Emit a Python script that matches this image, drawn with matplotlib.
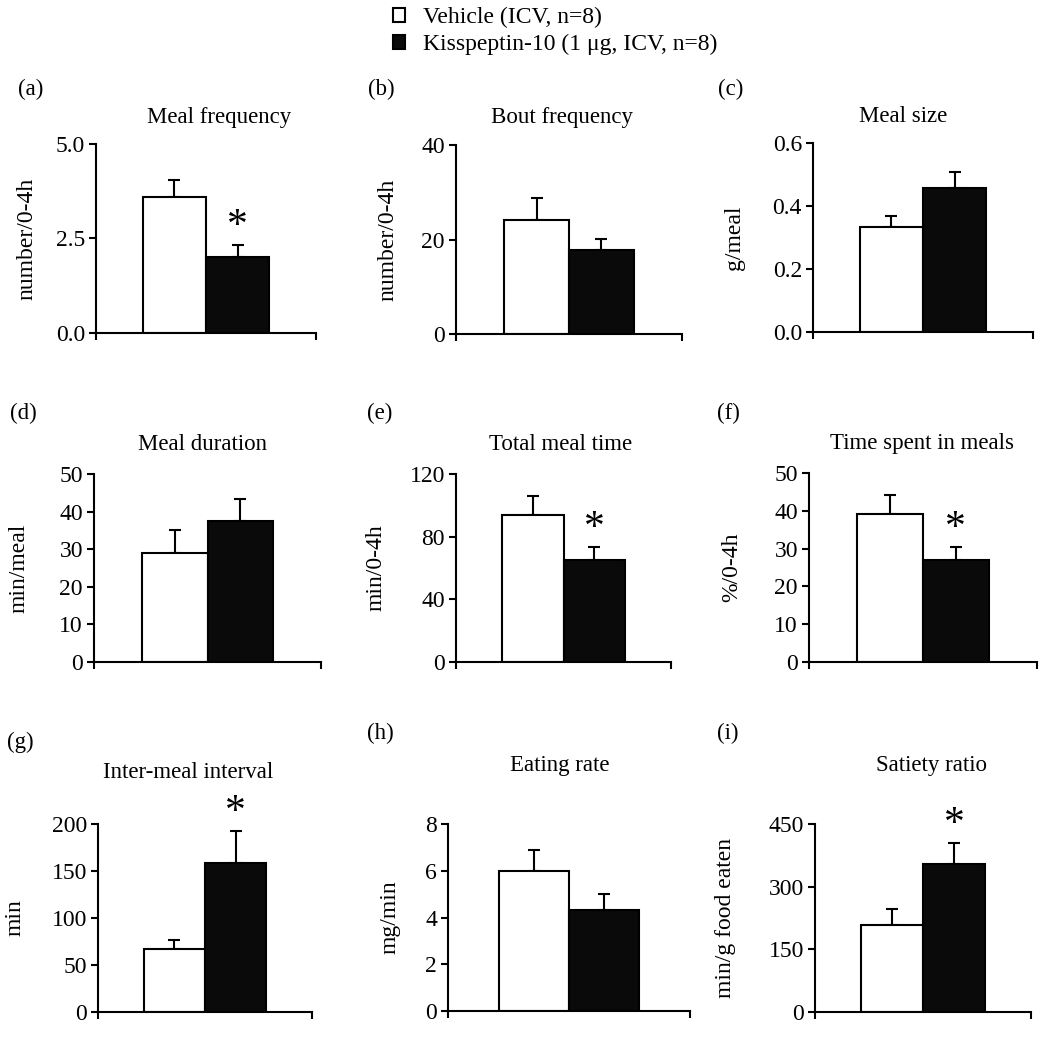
import matplotlib
matplotlib.use("Agg")
import matplotlib.pyplot as plt
from matplotlib.patches import Patch

plt.rcParams['font.family'] = ['Liberation Serif', 'DejaVu Serif']

# ---------------- data ----------------
groups = ["Vehicle (ICV, n=8)", "Kisspeptin-10 (1 \u03bcg, ICV, n=8)"]
panel_letters = ["(a)", "(b)", "(c)", "(d)", "(e)", "(f)", "(g)", "(h)", "(i)"]
titles = ["Meal frequency", "Bout frequency", "Meal size",
          "Meal duration", "Total meal time", "Time spent in meals",
          "Inter-meal interval", "Eating rate", "Satiety ratio"]
ylabels = ["number/0-4h", "number/0-4h", "g/meal",
           "min/meal", "min/0-4h", "%/0-4h",
           "min", "mg/min", "min/g food eaten"]
vehicle_mean = [3.6, 24.1, 0.333, 29.0, 94.1, 39.2, 66.5, 5.98, 208.6]
vehicle_sem = [0.46, 4.6, 0.036, 6.2, 12.1, 4.9, 10.6, 0.91, 37.4]
kiss_mean = [2.01, 17.8, 0.456, 37.4, 65.4, 27.1, 158.1, 4.32, 355.0]
kiss_sem = [0.31, 2.3, 0.051, 6.0, 7.9, 3.3, 34.4, 0.68, 50.0]
significant = [True, False, False, False, True, True, True, False, True]
yticks = [[0, 2.5, 5.0], [0, 20, 40], [0, 0.2, 0.4, 0.6],
          [0, 10, 20, 30, 40, 50], [0, 40, 80, 120], [0, 10, 20, 30, 40, 50],
          [0, 50, 100, 150, 200], [0, 2, 4, 6, 8], [0, 150, 300, 450]]
tick_fmt = ["%.1f", "%d", "%.1f", "%d", "%d", "%d", "%d", "%d", "%d"]

# ---------------- layout (pixels) ----------------
W, H = 1050, 1038
axes_px = [(96, 316, 144, 333), (456, 682, 145, 334), (813, 1033, 143, 332),
           (94, 321, 474, 662), (456, 671, 474, 662), (809, 1037, 473, 662),
           (98, 312, 824, 1012), (448, 690, 824, 1011), (815, 1031, 824, 1012)]
letter_px = [(18, 89), (368, 89), (718, 89),
             (10, 413), (367, 413), (717, 413),
             (7, 742), (367, 733), (717, 733)]
title_px = [(219, 117), (562, 117), (903, 117),
            (202, 444), (561, 444), (922, 444),
            (188, 772), (560, 765), (932, 765)]
ylabel_x_px = [27, 388, 735, 19, 376, 732, 15, 390, 725]

FS_TICK = 17
FS_TITLE = 16.5
FS_LABEL = 17
LW = 1.5

fig = plt.figure(figsize=(W / 100, H / 100), dpi=100)

xs = [0, 1]
xlim = (-1.24, 2.24)
for i in range(9):
    x0, x1, y0, y1 = axes_px[i]
    ax = fig.add_axes([x0 / W, 1 - y1 / H, (x1 - x0) / W, (y1 - y0) / H])
    means = [vehicle_mean[i], kiss_mean[i]]
    sems = [vehicle_sem[i], kiss_sem[i]]
    ax.bar(xs, means, width=1.0, color=["white", "#0a0a0a"],
           edgecolor="black", linewidth=LW, zorder=2)
    ax.errorbar(xs, means, yerr=[[0, 0], sems], fmt="none", ecolor="black",
                elinewidth=LW, capsize=4, capthick=LW, zorder=1)
    if significant[i]:
        ax.annotate("*", xy=(1, kiss_mean[i] + kiss_sem[i]), xytext=(0, 13),
                    textcoords="offset points", ha="center", va="center",
                    fontsize=30, annotation_clip=False)
    ax.set_xlim(*xlim)
    ax.set_ylim(yticks[i][0], yticks[i][-1])
    ax.set_yticks(yticks[i])
    ax.set_yticklabels([tick_fmt[i] % v for v in yticks[i]], fontsize=FS_TICK)
    ax.set_xticks(list(xlim))
    ax.set_xticklabels(["", ""])
    for s in ["top", "right"]:
        ax.spines[s].set_visible(False)
    for s in ["left", "bottom"]:
        ax.spines[s].set_linewidth(LW)
    ax.tick_params(axis="both", direction="out", length=5, width=LW, pad=3)
    ax.set_ylabel(ylabels[i], fontsize=FS_LABEL, va="center")
    ax.yaxis.set_label_coords((ylabel_x_px[i] - x0) / (x1 - x0), 0.5)
    ax.patch.set_visible(False)

    lx, ly = letter_px[i]
    fig.text(lx / W, 1 - ly / H, panel_letters[i], fontsize=FS_TITLE,
             ha="left", va="center")
    tx, ty = title_px[i]
    fig.text(tx / W, 1 - ty / H, titles[i], fontsize=FS_TITLE,
             ha="center", va="center")

handles = [Patch(facecolor="white", edgecolor="black", linewidth=LW),
           Patch(facecolor="#0a0a0a", edgecolor="black", linewidth=LW)]
fig.legend(handles, groups, loc="upper left", bbox_to_anchor=(379 / W, 1 + 7 / H),
           frameon=False, fontsize=FS_LABEL, handlelength=0.5, handleheight=0.5,
           handletextpad=0.75, labelspacing=0.25, borderpad=0.1)

fig.savefig("out.png", dpi=100)
